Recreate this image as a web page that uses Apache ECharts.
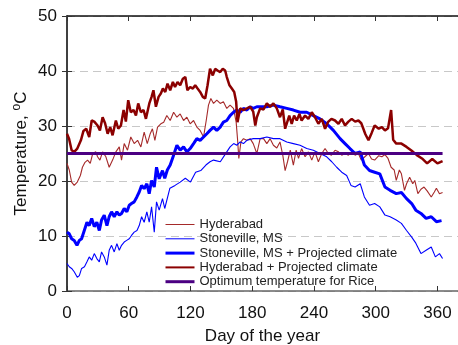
<!DOCTYPE html>
<html>
<head>
<meta charset="utf-8">
<script src="https://cdn.jsdelivr.net/npm/echarts@6/dist/echarts.min.js"></script>
<style>
  html, body { margin: 0; padding: 0; background: #fff; }
  #chart { width: 458px; height: 345px; }
</style>
</head>
<body>
<div id="chart"></div>
<script>
// Hyderabad (thin dark red)
var hydDays = [0,2.2,4.5,7,10,13,15,17.5,20,22.6,25,28,29.7,32,34.6,37.8,41,44.3,47.5,50.8,53,55.6,58.8,62,65.3,68.6,71.8,75,78,80.9,83,85.4,88,91.2,94,97,100.3,103.6,106.8,110,113.3,116.5,119.7,123,126.2,129.4,132.7,135.3,137.5,139.8,142.4,145.6,148.9,152,155.3,158.5,161.8,164.4,165.7,167,169,171.5,174.8,178,181,184.5,187.7,191,194.2,197.4,200.6,203.9,207,209.7,212,214.3,217,220,222.7,225,228,231.4,234.6,237.9,241,244.3,247.6,250.8,254,257,260.5,263.8,267,270.2,273.5,276.7,280,283.2,286,290,293,296,299,303,306,309,312,315,318,320,323,325,328,330,333,336,338,341,344,347,350,354,357,359,362,365];
var hydTemp = [23.2,22,19.8,19.2,19.8,21,22.5,23.4,23.8,23.2,25,25.3,24.4,23.8,25.3,24.4,22.5,23.8,25.3,26.2,23.8,26.8,25.6,28,26.8,27.4,26.2,28.9,26.8,28.6,29.5,27.4,29.8,30.4,30.7,31.9,31,32.5,31.6,32.2,31,31.6,30.4,31,29.8,29.2,28,31,33.8,35,34.1,34.7,34.1,34.4,33.2,33.8,33.2,30.7,27.7,24.1,27.1,27.7,27.4,27.7,26.8,25,27.7,27.7,26.8,27.7,26.5,26,27.1,24.7,21.9,23.5,25.6,22.9,25.6,24.1,25.9,24.4,25.3,23.8,25.3,23.5,25,25.9,25,24.7,25.6,25.3,24.7,25,24.7,25.3,24.7,25,23.8,24.5,25,24,23.8,24.6,24.4,24.8,24.1,22.5,22,20.1,22,21.3,18.3,19.5,20.7,19.5,20.1,17.7,18.5,18.9,18.2,17.1,18,18.7,17.7,17.9];

// Stoneville, MS (thin blue)
var stoDays = [0,2.2,4.5,7,10,12,14.2,17,19.4,21.6,24,26.5,29,31.4,33.6,36.2,38.8,41,43.3,45.9,48.5,50.8,53,55.6,58,60.5,62.7,65.3,68,70.2,72.5,75,77.6,79.9,82.2,84.8,87,89.6,92.8,95,100,105,110,115,120,125,130,135,139,142.4,149,155.3,158.5,162,165,168.3,171.5,174.8,181,187.7,194.2,200.6,207,213.6,220,226.5,233,239.4,245.9,252.4,257.3,262.1,267,271.8,276,280,285,289,294,299,304,309,314,320,325,330,335,339,344,349,354,358,362,365];
var stoTemp = [5,4.4,4.1,3.5,2.5,2.8,4.1,4.4,5.3,6.2,5.6,6.8,5.9,5.3,7.1,6.2,4.7,7.4,8.3,7.1,8.6,7.4,8.3,8.9,9.2,9.5,10.1,10.7,11,11.9,13.5,12.5,14.4,12.5,15.3,10.7,16.2,14.7,16.8,15,18.7,19.2,19.8,20.5,19.8,21.6,21.9,22.9,23.5,23.8,23.5,25.3,26.2,26.8,26.5,27.1,26.8,27.4,27.7,27.7,28,27.7,27.7,27.1,26.8,26.5,25.9,25.6,25,24.4,23.5,22.5,21.6,21,19.2,18.9,19.5,17.1,15.6,15.9,15.3,13.8,13.5,12.9,12.3,11,9.8,8.7,6.8,7.4,8,6.2,6.8,5.9];

// Stoneville, MS + Projected climate (thick blue)
var stoProjDays = [0,2.2,4.5,7,9.7,12,14.2,16.8,19.4,21.6,24,26.5,29,31.4,33.6,36.2,38.8,41,43.3,45.9,48.5,50.8,53,55.6,58.2,60.5,62.7,65.3,67.9,70.2,72.5,75,77.6,79.9,82.2,84.8,87,89.6,92.8,95,97.5,100.3,103.6,106.8,110,113.3,116.5,119.7,123,126.2,129.4,132.7,135.9,139,142.4,145.6,148.9,152,155.3,158.5,161.8,165,168.3,171.5,174.8,178,181,184.5,187.7,194.2,200.6,207,213.6,220,226.5,233,239.4,245.9,252.4,258.9,265.4,270.2,275,280,285,289,294,299,304,309,314,320,325,330,335,339,344,349,354,359,364];
var stoProjTemp = [10.7,10.4,9.5,9.2,8.3,9.2,9.5,11,12.5,11.9,13.2,11.7,12.5,11,12.9,13.8,11.9,13.5,14.4,13.5,14.4,13.8,14.1,15,14.4,15.6,15.9,16.2,17.1,18,19.2,18.6,19.5,17.7,20.1,18.9,22.5,20.4,21.9,20.5,22,22.9,24.7,26.5,25.6,26.2,25.3,25.9,26.8,27.7,27.4,28,28.6,29.2,29.8,29.2,29.8,30.7,31,31.9,32.5,32.9,32.5,33.2,32.9,33.5,33.2,33.5,33.5,33.5,33.8,33.5,33.2,32.9,32.5,32.5,31.9,31.3,30.4,29.2,27.7,26.8,25.9,25,25.3,22.9,21.9,21.6,21.3,18.9,18.3,17.7,17.9,16.8,15.9,14.7,14.1,13.2,13.5,12.6,12.8];

// Hyderabad + Projected climate (thick dark red)
var hydProjDays = [0,2,4.5,7,10,13.5,16,18.7,21.6,24,26.5,29.7,32,34.6,37,39.5,42,44.3,47.5,49.8,52.4,55,57.2,59.5,62,64.7,67,69.2,71.8,74.4,76.7,80,82.2,84,86.4,89,91.2,93.2,95.5,97.7,100.3,102.9,105,107.4,110,112.6,115,117,119.7,122.3,124.6,126.9,129.4,132,134.3,136.6,139,141.7,144,146.3,148.9,151.4,153.7,155.3,157.9,160.2,162.5,164.4,165.7,168.3,171.5,174.8,178,181,183,184.5,187.7,191,194.2,197.4,200.6,203.9,207,209.7,212,213.6,216,218.4,220.7,223.3,225.9,228,231.4,234.6,237.9,241,244.3,247.6,250.8,254,257,260.5,263.8,267,270.2,273.5,276.7,280,283.2,286,290,293,296,299,303,306,309,312,315,317,320,325,330,335,340,345,350,355,360,365];
var hydProjTemp = [28.6,27.7,25.6,25.3,25.9,27.4,29.1,29.5,28,31,30.8,30.1,29.2,31.6,30.5,28.6,29.8,28.3,31,29.5,30.1,32.9,30.8,34.7,32.5,32.9,31.9,34.1,32.5,32.9,31.3,34.1,35.3,36.5,33.5,35.3,35.9,36.8,36.2,37.7,36.5,38,37.1,38,37.4,38.6,38.9,36.5,37.1,36.8,37.4,36.8,36.2,35.3,35,37.4,40.4,39.2,40.4,40.1,39.8,40.4,40.1,38.9,37.4,36.8,36.2,34.4,30.7,33.2,32.9,33.2,33.5,32.6,30.1,31.6,33.2,33,34.1,33.5,34.1,33.2,31.6,33,29.5,29.2,31.9,30.4,31.9,31,32.2,31,31.9,31.3,32.5,31.6,30.4,31.3,29.5,30.8,31.3,31,30.4,31.3,30.1,30.8,31.3,30.8,31,30.5,28.5,27.4,28.7,30.1,29.5,29.8,29.2,29.6,32.9,27.5,26.8,26.8,26.2,25.5,24.7,24.1,23.2,24,23.2,23.6];

// Optimum temperature for rice
var optDays = [0, 365];
var optTemp = [25, 25];

var xTicks = [0, 60, 120, 180, 240, 300, 360];
var yTicks = [0, 10, 20, 30, 40, 50];

function pairs(xs, ys) {
  return xs.map(function (x, i) { return [x, ys[i]]; });
}

var font = "Liberation Sans";
var chart = echarts.init(document.getElementById("chart"));
chart.setOption({
  animation: false,
  backgroundColor: "#fff",
  textStyle: { fontFamily: font, color: "#000" },
  grid: { left: 67, right: 0, top: 16, bottom: 54, outerBoundsMode: "none" },
  legend: {
    orient: "vertical",
    left: 159,
    top: 213,
    itemWidth: 29,
    itemHeight: 14,
    itemGap: 1.3,
    itemStyle: { opacity: 0 },
    textStyle: { fontFamily: font, fontSize: 13, color: "#222" },
    data: [
      { name: "Hyderabad", lineStyle: { width: 1 } },
      { name: "Stoneville, MS", lineStyle: { width: 1 } },
      { name: "Stoneville, MS + Projected climate", lineStyle: { width: 3 } },
      { name: "Hyderabad + Projected climate", lineStyle: { width: 2 } },
      { name: "Optimum temperature for Rice", lineStyle: { width: 3 } }
    ]
  },
  xAxis: [{
    type: "value",
    min: 0,
    max: 380,
    interval: 60,
    name: "Day of the year",
    nameLocation: "middle",
    nameGap: 37,
    nameMoveOverlap: false,
    nameTextStyle: { fontSize: 17, color: "#111" },
    axisLine: { onZero: false, lineStyle: { color: "#666", width: 1.5 } },
    axisTick: { inside: true, length: 5, lineStyle: { color: "#333" } },
    axisLabel: {
      fontSize: 17, color: "#111", margin: 14,
      formatter: function (v) { return xTicks.indexOf(v) >= 0 ? v : ""; }
    },
    splitLine: { show: false }
  }, {
    type: "value",
    position: "top",
    min: 0,
    max: 380,
    interval: 60,
    axisLine: { show: true, onZero: false, lineStyle: { color: "#111", width: 1.5 } },
    axisTick: { inside: true, length: 5, lineStyle: { color: "#333" } },
    axisLabel: { show: false },
    splitLine: { show: false }
  }],
  yAxis: [{
    type: "value",
    min: 0,
    max: 50,
    interval: 10,
    name: "Temperature, {s|o}C",
    nameLocation: "middle",
    nameGap: 35,
    nameMoveOverlap: false,
    nameTextStyle: {
      fontSize: 17, color: "#111",
      rich: { s: { fontSize: 12, padding: [0, 0, 9, 0], color: "#111" } }
    },
    axisLine: { show: true, onZero: false, lineStyle: { color: "#000", width: 1.5 } },
    axisTick: { inside: true, length: 5, lineStyle: { color: "#333" } },
    axisLabel: {
      fontSize: 17, color: "#111", margin: 10,
      formatter: function (v) { return yTicks.indexOf(v) >= 0 ? v : ""; }
    },
    splitLine: {
      show: true,
      lineStyle: { color: "#c8c8c8", width: 1, type: [8, 5] }
    }
  }, {
    type: "value",
    position: "right",
    min: 0,
    max: 50,
    interval: 10,
    axisLine: { show: false },
    axisTick: { show: true, inside: true, length: 5, lineStyle: { color: "#333" } },
    axisLabel: { show: false },
    splitLine: { show: false }
  }],
  series: [{
    name: "Hyderabad",
    type: "line",
    symbol: "none",
    data: pairs(hydDays, hydTemp),
    lineStyle: { color: "#a52a2a", width: 1.1 },
    itemStyle: { color: "#a52a2a" }
  }, {
    name: "Stoneville, MS",
    type: "line",
    symbol: "none",
    data: pairs(stoDays, stoTemp),
    lineStyle: { color: "#0000ff", width: 1.1 },
    itemStyle: { color: "#0000ff" }
  }, {
    name: "Stoneville, MS + Projected climate",
    type: "line",
    symbol: "none",
    data: pairs(stoProjDays, stoProjTemp),
    lineStyle: { color: "#0000ff", width: 3 },
    itemStyle: { color: "#0000ff" }
  }, {
    name: "Hyderabad + Projected climate",
    type: "line",
    symbol: "none",
    data: pairs(hydProjDays, hydProjTemp),
    lineStyle: { color: "#8b0000", width: 2.5 },
    itemStyle: { color: "#8b0000" }
  }, {
    name: "Optimum temperature for Rice",
    type: "line",
    symbol: "none",
    data: pairs(optDays, optTemp),
    lineStyle: { color: "#4b0082", width: 3 },
    itemStyle: { color: "#4b0082" }
  }]
});
</script>
</body>
</html>
